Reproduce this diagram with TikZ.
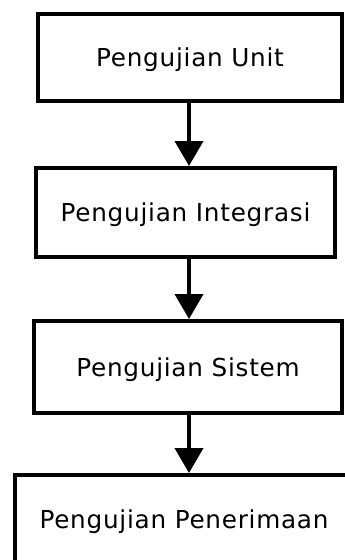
\documentclass[tikz,border=0pt]{standalone}
\usepackage{fontspec}
\setmainfont{DejaVu Sans}[LetterSpace=3]
\usetikzlibrary{arrows.meta}

\begin{document}
\begin{tikzpicture}[x=1pt, y=-1pt,
  stage/.style={draw=black, line width=4pt, fill=white, inner sep=0pt,
    font=\fontsize{24.7pt}{30pt}\selectfont, text height=18pt, text depth=0pt,
    align=center},
  flow/.style={line width=4pt, -{Triangle[width=28pt, length=25pt]}}]
  % page frame
  \useasboundingbox (0,0) rectangle (345,560);
  \fill[white] (0,0) rectangle (345,560);
  \clip (0,0) rectangle (345,560);

  % the four testing stages
  \node[stage, minimum width=304pt, minimum height=87pt] (unit) at (190,57.5) {Pengujian Unit};
  \node[stage, minimum width=299pt, minimum height=88.5pt] (integ) at (185.5,212.25) {Pengujian Integrasi};
  \node[stage, minimum width=308pt, minimum height=92pt] (sys) at (188,367) {Pengujian Sistem};
  \node[stage, text depth=40pt, minimum width=338pt, minimum height=128pt] (accept) at (184,539) {Pengujian Penerimaan};

  % vertical line on which the arrows run
  \coordinate (axis) at (189,0);

  % arrows between stages
  \draw[flow] (unit.south -| axis) -- (integ.north -| axis);
  \draw[flow] (integ.south -| axis) -- (sys.north -| axis);
  \draw[flow] (sys.south -| axis) -- (accept.north -| axis);
\end{tikzpicture}
\end{document}
